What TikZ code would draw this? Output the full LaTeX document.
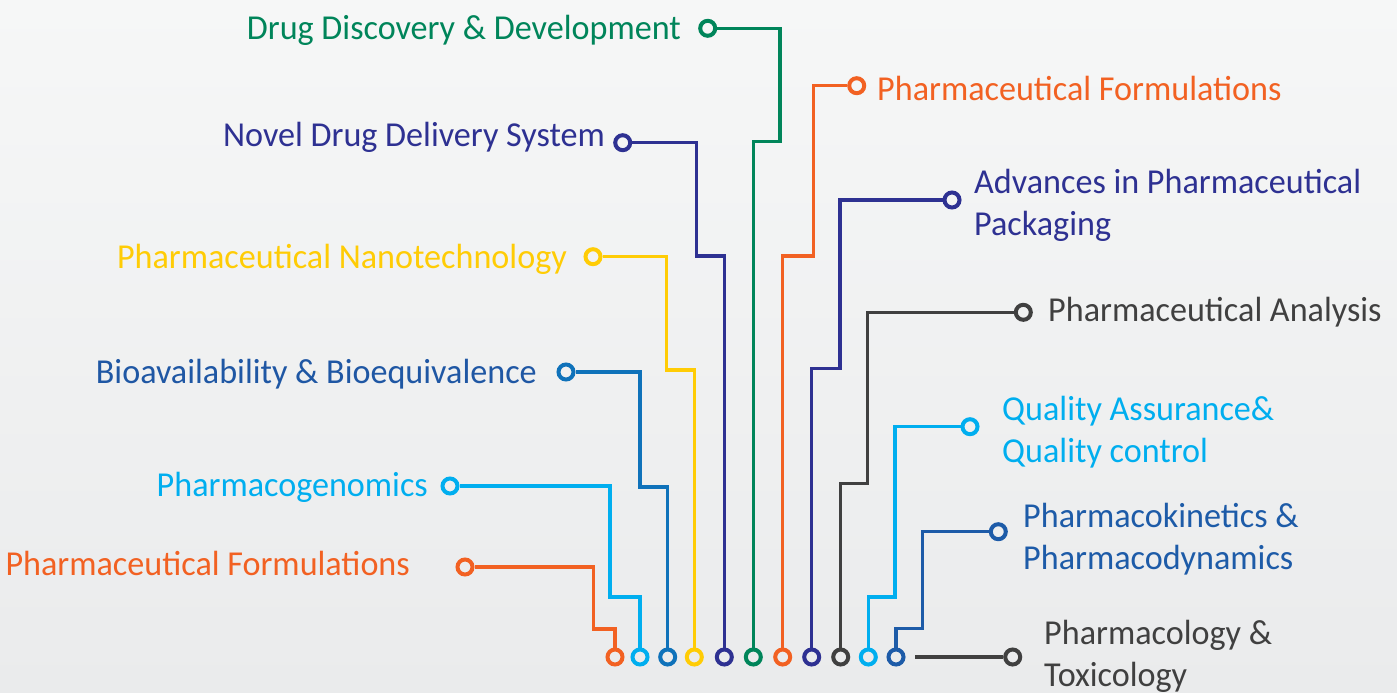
\documentclass[tikz,border=0pt]{standalone}
\usepackage{fontspec}
\setmainfont[FakeStretch=0.975]{Carlito}
\usepackage{tikz}
\usetikzlibrary{positioning}

\definecolor{ddgreen}{RGB}{0,133,90}
\definecolor{pforange}{RGB}{242,97,34}
\definecolor{ndnavy}{RGB}{46,49,146}
\definecolor{nanoyellow}{RGB}{255,204,5}
\definecolor{bioline}{RGB}{15,114,186}
\definecolor{biotext}{RGB}{31,87,164}
\definecolor{genblue}{RGB}{0,174,239}
\definecolor{darkgray}{RGB}{64,64,64}
\definecolor{pkblue}{RGB}{29,91,168}
\definecolor{bgtop}{RGB}{246,247,247}
\definecolor{bgbottom}{RGB}{234,235,236}

\begin{document}
\begin{tikzpicture}[
        x=1pt, y=-1pt,
        dot/.style={
            circle,
            draw=#1,
            line width=4pt,
            minimum size=15pt,
            inner sep=0pt
        },
        wire/.style={
            draw=#1,
            line width=3.3pt
        },
        topic/.style={
            text=#1,
            font=\fontsize{35}{42}\selectfont,
            inner sep=0pt,
            align=left
        }
    ]
        \useasboundingbox (0,0) rectangle (1397,693);
        \shade [top color=bgtop, bottom color=bgbottom] (0,0) rectangle (1397,693);

        % dots at the ends of the topics
        \node (drugtop) [dot=ddgreen] at (707.7,28.3) {};
        \node (formrtop) [dot=pforange] at (856.7,85.7) {};
        \node (noveltop) [dot=ndnavy] at (622.7,142.7) {};
        \node (advtop) [dot=ndnavy] at (952,200) {};
        \node (nanotop) [dot=nanoyellow] at (593,256.7) {};
        \node (anatop) [dot=darkgray] at (1023.3,312.3) {};
        \node (biotop) [dot=bioline] at (566,372) {};
        \node (qatop) [dot=genblue] at (970,426.7) {};
        \node (gentop) [dot=genblue] at (450,486) {};
        \node (pktop) [dot=pkblue] at (998.3,531.7) {};
        \node (formltop) [dot=pforange] at (465,567) {};
        \node (pharmtop) [dot=darkgray] at (1012.7,657) {};

        % dots along the bottom
        \node (formlbot) [dot=pforange] at (615,657) {};
        \node (genbot) [dot=genblue] at (640,657) {};
        \node (biobot) [dot=bioline] at (667.7,657) {};
        \node (nanobot) [dot=nanoyellow] at (694.3,657) {};
        \node (novelbot) [dot=ndnavy] at (724.3,657) {};
        \node (drugbot) [dot=ddgreen] at (753.3,657) {};
        \node (formrbot) [dot=pforange] at (782.7,657) {};
        \node (advbot) [dot=ndnavy] at (811.7,657) {};
        \node (anabot) [dot=darkgray] at (840.7,657) {};
        \node (qabot) [dot=genblue] at (868.3,657) {};
        \node (pkbot) [dot=pkblue] at (896,657) {};
        \coordinate (pharmbot) at (915,657);

        % labels (multi-line ones sit on their last line)
        \node (drug) [topic=ddgreen, anchor=base east] at (681,40) {Drug Discovery \& Development};
        \node (formr) [topic=pforange, anchor=base west] at (877,100) {Pharmaceutical Formulations};
        \node (novel) [topic=ndnavy, anchor=base east] at (605,146) {Novel Drug Delivery System};
        \node (adv) [topic=ndnavy, anchor=base west] at (974,235) {Advances in Pharmaceutical\\Packaging};
        \node (nano) [topic=nanoyellow, anchor=base east] at (567,268) {Pharmaceutical Nanotechnology};
        \node (ana) [topic=darkgray, anchor=base west] at (1048,321) {Pharmaceutical Analysis};
        \node (bio) [topic=biotext, anchor=base east] at (537,383) {Bioavailability \& Bioequivalence};
        \node (qa) [topic=genblue, anchor=base west] at (1002,462) {Quality Assurance\&\\Quality control};
        \node (gen) [topic=genblue, anchor=base east] at (428,496) {Pharmacogenomics};
        \node (pk) [topic=pkblue, anchor=base west] at (1023,569) {Pharmacokinetics \&\\Pharmacodynamics};
        \node (forml) [topic=pforange, anchor=base east] at (410,575) {Pharmaceutical Formulations};
        \node (pharm) [topic=darkgray, anchor=base west] at (1044,686) {Pharmacology \&\\Toxicology};

        % wires
        \draw [wire=pforange] (formltop) -| (593.3,629) -| (formlbot);
        \draw [wire=genblue] (gentop) -| (610,597) -| (genbot);
        \draw [wire=bioline] (biotop) -| (640,487) -| (biobot);
        \draw [wire=nanoyellow] (nanotop) -| (666.7,370) -| (nanobot);
        \draw [wire=ndnavy] (noveltop) -| (696.7,256) -| (novelbot);
        \draw [wire=ddgreen] (drugtop) -| (780,141.7) -| (drugbot);
        \draw [wire=pforange] (formrtop) -| (813.3,256) -| (formrbot);
        \draw [wire=ndnavy] (advtop) -| (840,368.3) -| (advbot);
        \draw [wire=darkgray] (anatop) -| (867.3,483.3) -| (anabot);
        \draw [wire=genblue] (qatop) -| (895,597) -| (qabot);
        \draw [wire=pkblue] (pktop) -| (922.7,628.3) -| (pkbot);
        \draw [wire=darkgray] (pharmbot) -- (pharmtop);

    \end{tikzpicture}
\end{document}
